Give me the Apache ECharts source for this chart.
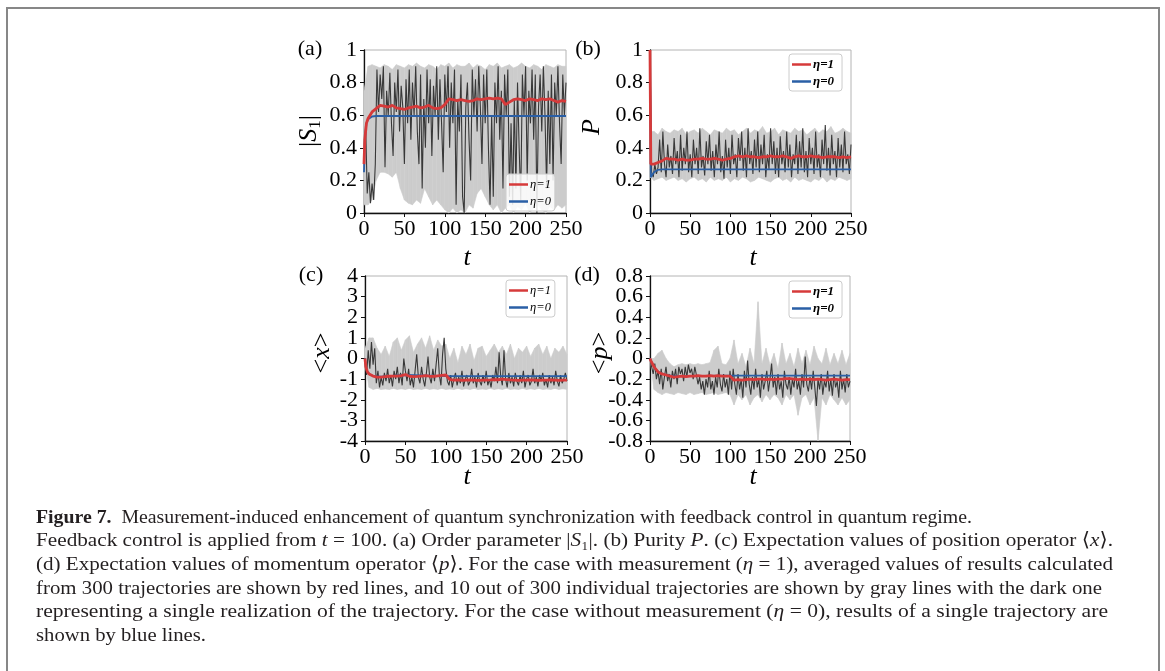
<!DOCTYPE html>
<html><head><meta charset="utf-8">
<script src="https://cdn.jsdelivr.net/npm/echarts@6/dist/echarts.min.js"></script>
<style>html,body{margin:0;padding:0;background:#fff}#c{width:1165px;height:671px}</style>
</head><body><div id="c"></div>
<script>
// ---------- data ----------
const X_TICKS = [0, 50, 100, 150, 200, 250];
const DARK_STEP = 2;   // t spacing of the dark single trajectory samples
const BAND_STEP = 5;   // t spacing of the light gray envelope samples
const LEGEND_NAMES = ['η=1', 'η=0'];

// time grid for averaged (red) curves
const T_MEAN = [0, 1, 3, 5, 10, 15, 20, 25, 30, 35, 40, 45, 50, 55, 60, 65, 70, 75, 80, 85, 90, 95,
  100, 105, 110, 115, 120, 125, 130, 135, 140, 145, 150, 155, 160, 165, 170, 175, 180, 185, 190, 195,
  200, 205, 210, 215, 220, 225, 230, 235, 240, 245, 250];

// (a) order parameter |S1|
const A_RED = [0.30,0.45,0.55,0.58, 0.62,0.64,0.66,0.655,0.65,0.66,0.645,0.64,0.635,0.645,0.65,0.655,0.645,0.65,0.66,0.645,0.64,0.645,
  0.665,0.70,0.695,0.69,0.695,0.69,0.685,0.69,0.70,0.695,0.70,0.705,0.70,0.705,0.70,0.665,0.68,0.695,0.70,0.695,
  0.69,0.70,0.695,0.69,0.70,0.695,0.70,0.69,0.68,0.69,0.685];
const A_BLUE_T = [0, 1, 3, 5, 10, 15, 250];
const A_BLUE = [0.25, 0.45, 0.55, 0.575, 0.592, 0.595, 0.595];
const A_DARK = [0.30,0.55,0.12,0.25,0.06,0.18,0.08,0.30,0.88,0.62,
  0.85,0.70,0.90,0.28,0.75,0.60,0.86,0.55,0.35,0.80,
  0.62,0.88,0.50,0.78,0.65,0.30,0.82,0.55,0.88,0.45,
  0.80,0.60,0.90,0.50,0.30,0.85,0.15,0.70,0.40,0.88,
  0.55,0.82,0.35,0.78,0.60,0.90,0.45,0.82,0.55,0.25,
  0.85,0.62,0.90,0.40,0.80,0.55,0.88,0.05,0.70,0.50,
  0.85,0.10,0.00,0.65,0.80,0.45,0.20,0.88,0.60,0.82,
  0.50,0.90,0.65,0.30,0.85,0.55,0.88,0.40,0.05,0.60,
  0.10,0.80,0.55,0.90,0.45,0.75,0.15,0.85,0.60,0.88,
  0.10,0.55,0.05,0.70,0.15,0.80,0.40,0.08,0.85,0.60,
  0.90,0.20,0.75,0.55,0.88,0.45,0.85,0.00,0.65,0.85,
  0.50,0.90,0.60,0.15,0.75,0.30,0.85,0.20,0.80,0.60,
  0.90,0.55,0.30,0.85,0.60,0.80];
const A_UP = [0.75,0.90,0.91,0.90,0.89,0.91,0.90,0.88,0.91,0.90, 0.89,0.91,0.90,0.92,0.90,0.89,0.91,0.90,0.88,0.91,
  0.90,0.92,0.89,0.91,0.90,0.90,0.92,0.89,0.91,0.90, 0.88,0.91,0.90,0.92,0.89,0.90,0.91,0.89,0.90,0.92,
  0.90,0.89,0.91,0.90,0.88,0.91,0.90,0.89,0.91,0.90, 0.90];
const A_LO = [0.05,0.05,0.08,0.20,0.25,0.25,0.24,0.22,0.25,0.15, 0.08,0.06,0.05,0.08,0.06,0.15,0.10,0.05,0.08,0.05,
  0.02,0.00,0.03,0.00,0.02,0.00,0.05,0.03,0.12,0.15, 0.10,0.05,0.02,0.05,0.00,0.03,0.05,0.00,0.04,0.02,
  0.06,0.00,0.03,0.05,0.02,0.00,0.04,0.02,0.05,0.03, 0.05];

// (b) purity P
const B_RED = [1.00,0.30,0.29,0.30, 0.31,0.32,0.335,0.33,0.33,0.325,0.33,0.325,0.325,0.33,0.33,0.335,0.33,0.33,0.335,0.33,0.325,0.33,
  0.335,0.345,0.35,0.345,0.35,0.345,0.345,0.34,0.345,0.345,0.35,0.345,0.345,0.35,0.345,0.335,0.345,0.35,0.345,0.345,
  0.35,0.345,0.345,0.34,0.345,0.345,0.345,0.34,0.345,0.34,0.345];
const B_BLUE_T = [0, 1, 3, 5, 10, 15, 250];
const B_BLUE = [1.00, 0.22, 0.235, 0.25, 0.265, 0.268, 0.268];
const B_DARK = [1.00,0.25,0.22,0.30,0.24,0.28,0.45,0.25,0.50,0.30,
  0.22,0.42,0.28,0.35,0.24,0.46,0.30,0.38,0.22,0.48,
  0.26,0.40,0.30,0.50,0.25,0.36,0.22,0.45,0.30,0.40,
  0.24,0.52,0.28,0.35,0.23,0.44,0.30,0.48,0.26,0.38,
  0.22,0.42,0.30,0.50,0.25,0.35,0.21,0.45,0.28,0.40,
  0.24,0.48,0.30,0.36,0.22,0.46,0.32,0.50,0.26,0.40,
  0.22,0.52,0.30,0.38,0.24,0.45,0.28,0.50,0.25,0.42,
  0.30,0.48,0.22,0.36,0.27,0.52,0.30,0.44,0.24,0.40,
  0.22,0.47,0.30,0.38,0.25,0.50,0.28,0.42,0.22,0.36,
  0.30,0.48,0.24,0.44,0.28,0.52,0.25,0.38,0.22,0.46,
  0.30,0.40,0.24,0.50,0.28,0.36,0.22,0.45,0.30,0.54,
  0.26,0.40,0.23,0.48,0.30,0.38,0.22,0.46,0.28,0.42,
  0.25,0.50,0.30,0.36,0.24,0.42];
const B_UP = [0.50,0.50,0.48,0.52,0.50,0.49,0.51,0.50,0.52,0.48, 0.50,0.51,0.49,0.52,0.50,0.48,0.51,0.50,0.49,0.52,
  0.50,0.51,0.48,0.50,0.52,0.49,0.51,0.50,0.53,0.49, 0.50,0.52,0.48,0.51,0.50,0.49,0.52,0.50,0.51,0.48,
  0.50,0.52,0.49,0.51,0.50,0.53,0.49,0.50,0.52,0.50, 0.49];
const B_LO = [0.22,0.20,0.21,0.22,0.20,0.21,0.22,0.20,0.21,0.19, 0.21,0.22,0.20,0.21,0.19,0.22,0.20,0.21,0.20,0.22,
  0.19,0.21,0.20,0.22,0.21,0.19,0.20,0.22,0.21,0.20, 0.19,0.21,0.22,0.20,0.21,0.19,0.22,0.20,0.21,0.20,
  0.19,0.21,0.20,0.22,0.19,0.21,0.20,0.22,0.21,0.20, 0.21];

// (c) <x>
const C_RED = [0,-0.4,-0.65,-0.75, -0.85,-0.9,-0.9,-0.88,-0.86,-0.85,-0.85,-0.83,-0.78,-0.86,-0.88,-0.87,-0.85,-0.83,-0.86,-0.87,-0.84,-0.82,
  -0.80,-1.02,-1.05,-1.04,-1.06,-1.05,-1.04,-1.05,-1.06,-1.05,-1.05,-1.04,-1.02,-1.03,-1.0,-1.02,-1.04,-1.05,-1.06,-1.05,
  -1.05,-1.04,-1.05,-1.06,-1.05,-1.05,-1.04,-1.05,-1.06,-1.05,-1.05];
const C_BLUE_T = [0, 1, 3, 5, 10, 20, 50, 100, 250];
const C_BLUE = [0, -0.4, -0.65, -0.75, -0.85, -0.88, -0.8, -0.85, -0.85];
const C_DARK = [0.0,-0.8,0.4,-0.5,0.8,-0.3,0.5,-1.2,-0.6,-1.4,
  -0.9,-1.3,-0.7,-1.1,-0.5,-1.2,-0.8,-1.35,-0.6,-1.0,
  -0.4,-1.2,-0.7,-1.3,0.0,-0.6,-1.1,-0.5,-1.3,-0.9,
  -1.4,-0.6,0.2,-0.9,-1.2,-0.4,-1.0,-1.35,-0.7,0.1,
  -0.9,-1.2,-0.5,-1.1,-0.3,0.5,-0.8,-1.3,0.2,1.0,
  -0.5,-1.1,-1.3,-0.8,-1.4,-1.0,-0.7,-1.3,-0.9,-1.2,
  -0.6,-1.35,-1.0,-0.8,-1.3,-1.1,-0.5,-1.2,-0.9,-1.4,
  -0.7,-1.1,-1.3,-0.8,-1.2,-0.6,-1.3,-1.0,-1.4,-0.8,
  -1.1,-0.4,-1.2,0.3,-0.9,-1.3,0.4,-1.0,-1.4,-0.7,
  -1.2,-0.9,-1.35,-0.7,-1.1,-1.3,-0.8,-1.2,-0.6,-1.4,
  -1.0,-0.8,-1.3,-1.1,-0.5,-1.2,-0.9,-1.35,-0.8,-1.1,
  -0.7,-1.3,-1.0,-1.4,-0.8,-1.2,-0.9,-1.3,-0.6,-1.1,
  -1.35,-0.8,-1.2,-1.0,-0.7,-1.1];
const C_UP = [0.5,1.0,1.0,0.5,0.2,0.6,0.1,0.8,1.0,0.4, 0.9,1.1,0.3,0.7,1.0,0.5,1.1,0.4,0.9,0.6,
  0.7,0.0,0.5,-0.2,0.6,0.2,0.7,-0.1,0.5,0.6, 0.1,0.4,0.7,0.3,0.6,0.2,0.7,0.0,0.5,0.3,
  0.6,0.1,0.5,0.7,0.2,0.6,0.0,0.5,0.3,0.6, 0.2];
const C_LO = [-0.2,-1.4,-1.5,-1.45,-1.5,-1.48,-1.5,-1.45,-1.5,-1.47, -1.5,-1.45,-1.5,-1.48,-1.5,-1.45,-1.5,-1.47,-1.5,-1.45,
  -1.5,-1.48,-1.5,-1.45,-1.5,-1.47,-1.5,-1.45,-1.5,-1.48, -1.5,-1.45,-1.5,-1.47,-1.5,-1.45,-1.5,-1.48,-1.5,-1.45,
  -1.5,-1.47,-1.5,-1.45,-1.5,-1.48,-1.5,-1.45,-1.5,-1.47, -1.5];

// (d) <p>
const D_RED = [0,-0.02,-0.05,-0.08, -0.13,-0.15,-0.16,-0.17,-0.18,-0.175,-0.17,-0.175,-0.17,-0.17,-0.165,-0.17,-0.17,-0.165,-0.17,-0.165,-0.17,-0.17,
  -0.17,-0.21,-0.205,-0.21,-0.205,-0.2,-0.205,-0.2,-0.2,-0.205, -0.2,-0.205,-0.2,-0.2,-0.195,-0.195,-0.2,-0.205,-0.2,-0.205,
  -0.2,-0.205,-0.2,-0.205,-0.21,-0.205,-0.2,-0.205,-0.21,-0.205,-0.205];
const D_BLUE_T = [0, 1, 3, 5, 10, 20, 30, 100, 250];
const D_BLUE = [0, -0.02, -0.05, -0.08, -0.13, -0.16, -0.17, -0.167, -0.167];
const D_DARK = [0.0,-0.08,-0.15,-0.05,-0.2,-0.12,-0.25,-0.1,-0.3,-0.18,
  -0.08,-0.22,-0.15,-0.28,-0.12,-0.2,-0.1,-0.25,-0.08,-0.15,
  -0.1,-0.22,-0.08,-0.18,-0.06,-0.14,-0.1,-0.2,-0.08,-0.16,
  -0.25,-0.18,-0.3,-0.22,-0.35,-0.2,-0.28,-0.12,-0.3,-0.22,
  -0.35,-0.18,-0.28,-0.1,-0.25,-0.32,-0.15,-0.28,-0.2,-0.35,
  -0.12,-0.3,-0.1,-0.25,-0.35,-0.15,-0.3,-0.2,-0.38,-0.12,
  -0.28,-0.02,-0.25,-0.35,-0.18,-0.3,-0.1,-0.28,-0.2,-0.38,
  -0.15,-0.3,-0.22,-0.12,-0.32,-0.2,-0.05,-0.28,-0.18,-0.35,
  -0.15,-0.3,-0.22,-0.38,-0.12,-0.25,-0.3,-0.18,-0.35,-0.2,
  -0.28,-0.1,-0.3,-0.22,-0.35,-0.15,-0.28,0.02,-0.25,-0.32,
  -0.18,-0.3,-0.12,-0.28,-0.46,-0.2,-0.3,-0.15,-0.35,-0.22,
  -0.28,-0.12,-0.32,-0.2,-0.36,-0.15,-0.28,-0.22,-0.38,-0.12,
  -0.3,-0.2,-0.33,-0.15,-0.28,-0.22];
const D_UP = [0.0,0.0,0.05,0.08,0.0,-0.05,-0.08,-0.06,-0.05,-0.06, -0.05,-0.06,-0.05,-0.06,-0.05,-0.04,0.08,0.12,-0.05,-0.06,
  0.0,0.18,-0.05,0.05,-0.08,0.1,-0.05,0.55,-0.05,0.1, -0.06,0.05,-0.1,0.15,-0.05,0.05,-0.08,0.1,-0.05,0.08,
  -0.06,0.12,0.0,-0.05,0.1,-0.06,0.05,-0.05,0.08,-0.06, 0.05];
const D_LO = [0.0,-0.3,-0.33,-0.35,-0.33,-0.34,-0.35,-0.33,-0.34,-0.35, -0.33,-0.35,-0.34,-0.33,-0.35,-0.34,-0.33,-0.35,-0.34,-0.33,
  -0.35,-0.45,-0.35,-0.4,-0.35,-0.45,-0.38,-0.35,-0.42,-0.35, -0.4,-0.35,-0.38,-0.45,-0.35,-0.4,-0.35,-0.55,-0.38,-0.35,
  -0.45,-0.38,-0.8,-0.38,-0.45,-0.35,-0.4,-0.45,-0.38,-0.45, -0.4];

// caption text (style key, text)
const CAPTION_LINES = [
  [['b', 'Figure 7.'], ['n', '  Measurement-induced enhancement of quantum synchronization with feedback control in quantum regime.']],
  [['n', 'Feedback control is applied from '], ['i', 't'], ['n', ' = 100. (a) Order parameter |'], ['i', 'S'], ['n', '₁|. (b) Purity '], ['i', 'P'], ['n', '. (c) Expectation values of position operator ⟨'], ['i', 'x'], ['n', '⟩.']],
  [['n', '(d) Expectation values of momentum operator ⟨'], ['i', 'p'], ['n', '⟩. For the case with measurement ('], ['i', 'η'], ['n', ' = 1), averaged values of results calculated']],
  [['n', 'from 300 trajectories are shown by red lines, and 10 out of 300 individual trajectories are shown by gray lines with the dark one']],
  [['n', 'representing a single realization of the trajectory. For the case without measurement ('], ['i', 'η'], ['n', ' = 0), results of a single trajectory are']],
  [['n', 'shown by blue lines.']]
];

// ---------- styling / layout ----------
const SERIF = "'Liberation Serif', 'DejaVu Serif', serif";
const RED = '#d63a3a', BLUE = '#2a5fa6', DARK = '#383838', LIGHT = '#cccccc';
const CAP = 19.5, CAP_LEFT = 36, CAP_TOP = 517.5, CAP_STEP = 23.7;
const CAP_RIGHT = [972, 1113, 1113, 1102, 1108, 206];

function stepT(step, n) { const a = []; for (let i = 0; i < n; i++) a.push(i * step); return a; }
function pairs(ts, vs) { return vs.map((v, i) => [ts[i], v]); }
function fmtNum(v) { return String(Math.round(v * 1000) / 1000 + 0); }

const panels = [
  { grid: {left: 364, top: 50, width: 202, height: 163}, y: [0, 1, 0.2], split: false,
    up: A_UP, lo: A_LO, dark: A_DARK, red: A_RED, blueT: A_BLUE_T, blue: A_BLUE,
    legend: {left: 506, top: 174, bold: false} },
  { grid: {left: 650, top: 50, width: 201, height: 163}, y: [0, 1, 0.2], split: false,
    up: B_UP, lo: B_LO, dark: B_DARK, red: B_RED, blueT: B_BLUE_T, blue: B_BLUE,
    legend: {left: 789, top: 54, bold: true} },
  { grid: {left: 365, top: 276, width: 202, height: 165}, y: [-4, 4, 1], split: true,
    up: C_UP, lo: C_LO, dark: C_DARK, red: C_RED, blueT: C_BLUE_T, blue: C_BLUE,
    legend: {left: 506, top: 280, bold: false} },
  { grid: {left: 650, top: 276, width: 200, height: 165}, y: [-0.8, 0.8, 0.2], split: true,
    up: D_UP, lo: D_LO, dark: D_DARK, red: D_RED, blueT: D_BLUE_T, blue: D_BLUE,
    legend: {left: 789, top: 281, bold: true} }
];

function bandSeries(k, ts, lo, up) {
  const rows = ts.map((t, i) => [t, lo[i], up[i]]);
  return {
    type: 'custom', xAxisIndex: k, yAxisIndex: k, silent: true, z: 1, animation: false,
    data: rows.slice(0, -1), encode: {x: 0, y: [1, 2]},
    renderItem: function (params, api) {
      const a = rows[params.dataIndex], b = rows[params.dataIndex + 1];
      const pts = [api.coord([a[0], a[2]]), api.coord([b[0], b[2]]), api.coord([b[0], b[1]]), api.coord([a[0], a[1]])];
      return {type: 'polygon', shape: {points: pts}, style: {fill: LIGHT, stroke: LIGHT, lineWidth: 0.6}};
    }
  };
}

const grids = [], xAxes = [], yAxes = [], extraY = [], series = [], legends = [];
const lab = {color: '#000', fontFamily: SERIF, fontSize: 22, lineHeight: 16, hideOverlap: false};
const axisLineStyle = {show: true, onZero: false, lineStyle: {color: '#111', width: 1.3}};
const axisTickStyle = {show: true, inside: false, length: 4, lineStyle: {color: '#111', width: 1}};
panels.forEach((p, k) => {
  grids.push(Object.assign({show: true, borderColor: '#b4b4b4', borderWidth: 1, backgroundColor: 'transparent', containLabel: false, outerBoundsMode: 'none'}, p.grid));
  xAxes.push({gridIndex: k, type: 'value', min: X_TICKS[0], max: X_TICKS[X_TICKS.length - 1], interval: X_TICKS[1] - X_TICKS[0], position: 'bottom',
    splitLine: {show: false}, axisLine: axisLineStyle, axisTick: axisTickStyle,
    axisLabel: Object.assign({}, lab, {margin: 8, showMinLabel: true, showMaxLabel: true})});
  // main y axis: all labels, or the even-indexed ones when labels are dense
  yAxes.push({gridIndex: k, type: 'value', min: p.y[0], max: p.y[1], interval: p.y[2], position: 'left',
    splitLine: {show: false}, axisLine: axisLineStyle, axisTick: axisTickStyle,
    axisLabel: Object.assign({}, lab, {margin: 7, showMinLabel: true, showMaxLabel: true,
      formatter: (v, i) => (!p.split || i % 2 === 0) ? fmtNum(v) : ''})});
  if (p.split) {
    // overlay axis (same scale) carrying the odd-indexed labels
    extraY.push({gridIndex: k, type: 'value', min: p.y[0], max: p.y[1], interval: p.y[2], position: 'left',
      splitLine: {show: false}, axisLine: {show: false, onZero: false}, axisTick: {show: false},
      axisLabel: Object.assign({}, lab, {margin: 7, showMinLabel: false, showMaxLabel: false,
        formatter: (v, i) => (i % 2 === 1) ? fmtNum(v) : ''})});
  }

  const base = {type: 'line', xAxisIndex: k, yAxisIndex: k, symbol: 'none', silent: true, animation: false};
  series.push(bandSeries(k, stepT(BAND_STEP, p.up.length), p.lo, p.up));
  series.push(Object.assign({}, base, {name: 'dark-' + k, data: pairs(stepT(DARK_STEP, p.dark.length), p.dark), lineStyle: {width: 1.1, color: DARK}, itemStyle: {color: DARK}, z: 2}));
  series.push(Object.assign({}, base, {name: LEGEND_NAMES[1], data: pairs(p.blueT, p.blue), lineStyle: {width: 1.8, color: BLUE}, itemStyle: {color: BLUE}, color: BLUE, z: 3}));
  series.push(Object.assign({}, base, {name: LEGEND_NAMES[0], data: pairs(T_MEAN, p.red), lineStyle: {width: 2.8, color: RED}, itemStyle: {color: RED}, color: RED, z: 4}));

  legends.push({
    data: LEGEND_NAMES, orient: 'vertical', left: p.legend.left, top: p.legend.top,
    icon: 'rect', itemWidth: 19, itemHeight: 2.5, itemGap: 4,
    padding: p.legend.bold ? [4, 8, 3, 3] : [4, 4, 3, 3], borderColor: '#cccccc', borderWidth: 1, borderRadius: 3,
    backgroundColor: 'rgba(255,255,255,0.85)', selectedMode: false,
    textStyle: {fontFamily: SERIF, fontSize: p.legend.bold ? 13 : 12.5, fontStyle: 'italic', fontWeight: p.legend.bold ? 'bold' : 'normal', color: '#000', padding: [0, 0, 0, -3]}
  });
});

function T(x, y, text, size, extra) {
  const e = {type: 'text', x: x, y: y, silent: true,
    style: {text: text, fontSize: size, fontFamily: SERIF, fill: '#000', align: 'center', verticalAlign: 'middle'}};
  if (extra) {
    if (extra.rotation) e.rotation = extra.rotation;
    if (extra.style) Object.assign(e.style, extra.style);
  }
  return e;
}
const AX = 26;
const richAx = {
  i: {fontStyle: 'italic', fontSize: AX, fontFamily: SERIF, fill: '#000', lineHeight: 30},
  n: {fontSize: AX, fontFamily: SERIF, fill: '#000', lineHeight: 30},
  s: {fontSize: 17, fontFamily: SERIF, fill: '#000', lineHeight: 30, verticalAlign: 'bottom'}
};
const R90 = Math.PI / 2;
const CAP_STYLES = {
  b: {fontWeight: 'bold', fontStyle: 'normal'},
  i: {fontWeight: 'normal', fontStyle: 'italic'},
  n: {fontWeight: 'normal', fontStyle: 'normal'}
};
const richCap = {};
Object.keys(CAP_STYLES).forEach(k => {
  richCap[k] = Object.assign({fontSize: CAP, fontFamily: SERIF, fill: '#231f20'}, CAP_STYLES[k]);
});

const mctx = document.createElement('canvas').getContext('2d');
function segWidth(s, t) {
  const st = CAP_STYLES[s];
  mctx.font = (st.fontStyle === 'italic' ? 'italic ' : '') + (st.fontWeight === 'bold' ? 'bold ' : '') + CAP + 'px ' + SERIF;
  return mctx.measureText(t).width;
}

const graphics = [
  {type: 'rect', silent: true, shape: {x: 7, y: 8, width: 1152, height: 700}, style: {fill: 'none', stroke: '#878787', lineWidth: 2}},
  T(310, 49, '(a)', 22), T(588, 49, '(b)', 22), T(311, 275, '(c)', 22), T(587, 275, '(d)', 22),
  T(309, 131, '|{i|S}{s|1}|', AX, {rotation: R90, style: {rich: richAx}}),
  T(592, 127, '{i|P}', AX, {rotation: R90, style: {rich: richAx}}),
  T(322, 353, '{n|<}{i|x}{n|>}', AX, {rotation: R90, style: {rich: richAx}}),
  T(600, 353, '{n|<}{i|p}{n|>}', AX, {rotation: R90, style: {rich: richAx}}),
  T(467, 258, '{i|t}', AX, {style: {rich: richAx}}), T(753, 258, '{i|t}', AX, {style: {rich: richAx}}),
  T(467, 477, '{i|t}', AX, {style: {rich: richAx}}), T(753, 477, '{i|t}', AX, {style: {rich: richAx}})
];

// caption lines: the reference face is wider than Liberation Serif, so each line is stretched to its measured length
CAPTION_LINES.forEach((segs, li) => {
  const natural = segs.reduce((a, sg) => a + segWidth(sg[0], sg[1]), 0);
  const sx = (CAP_RIGHT[li] - CAP_LEFT) / natural;
  graphics.push({type: 'text', x: CAP_LEFT, y: CAP_TOP + li * CAP_STEP, scaleX: sx, scaleY: 1, silent: true,
    style: {text: segs.map(sg => '{' + sg[0] + '|' + sg[1] + '}').join(''), rich: richCap,
      fontSize: CAP, fontFamily: SERIF, fill: '#231f20', align: 'left', verticalAlign: 'middle'}});
});

const chart = echarts.init(document.getElementById('c'), null, {renderer: 'canvas'});
chart.setOption({
  animation: false, backgroundColor: '#fff',
  grid: grids, xAxis: xAxes, yAxis: yAxes.concat(extraY), legend: legends, series: series,
  graphic: {elements: graphics}
});
</script></body></html>
